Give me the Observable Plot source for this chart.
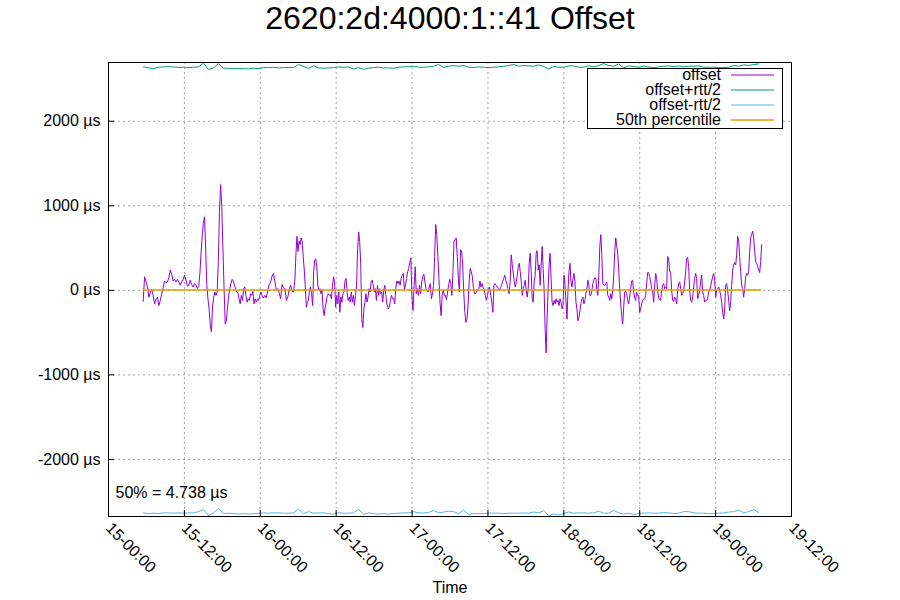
<!DOCTYPE html>
<html>
<head>
<meta charset="utf-8">
<script src="https://cdn.jsdelivr.net/npm/d3@7"></script>
<script src="https://cdn.jsdelivr.net/npm/@observablehq/plot@0.6"></script>
<style>
  body { margin: 0; background: #fff; }
  #chart { width: 900px; height: 600px; }
</style>
</head>
<body>
<div id="chart"></div>
<script>
// ---------------- DATA ----------------
const chartTitle = "2620:2d:4000:1::41 Offset";
const xAxisLabel = "Time";
const medianValue = 4.738;
const medianLabel = "50% = 4.738 µs";
const seriesNames = ["offset", "offset+rtt/2", "offset-rtt/2", "50th percentile"];
const seriesColors = ["#9400d3", "#009e73", "#56b4e9", "#e69f00"];

const xDomain = ["2024-03-15T00:00Z", "2024-03-19T12:00Z"];
const xTickDates = [
  "2024-03-15T00:00Z", "2024-03-15T12:00Z", "2024-03-16T00:00Z", "2024-03-16T12:00Z",
  "2024-03-17T00:00Z", "2024-03-17T12:00Z", "2024-03-18T00:00Z", "2024-03-18T12:00Z",
  "2024-03-19T00:00Z", "2024-03-19T12:00Z"
];
const yDomain = [-2675, 2695];
const yTicks = [-2000, -1000, 0, 1000, 2000];

// offset (µs), read piecewise; each piece is evenly spaced between its bounds
const offsetBoundsA = ["2024-03-15T05:29Z", "2024-03-15T14:17Z"];
const offsetA = [-130, 160, 100, 40, -80, -20, 10, -60, -160, -100, -80, -180, -120, -40, 30, 110, 90, 100, 150, 240,
  190, 110, 130, 100, 130, 100, 60, 100, 130, 180, 120, 50, 60, 120, 70, 40, 80, 60, 20, 60];

const offsetBoundsB = ["2024-03-15T14:27Z", "2024-03-16T00:28Z"];
const offsetB = [200, 440, 640, 790, 870, 500, 60, -100, -220, -400, -490, -200, -80, -20, -60, -20, 340, 930, 1250, 990,
  500, 20, -400, -360, -200, -60, 20, 80, 130, 110, 60, 20, -20, -30, -100, -160, -60, -120, 20, 40,
  -60, -140, -100, -120, -40, -60, -10, -160, -100, -140, -100, -120, -60, -20, -60, -90];

const offsetBoundsC1 = ["2024-03-16T00:44Z", "2024-03-16T05:29Z"];
const offsetC1 = [-60, -90, 0, 70, 100, 170, 200, 100, 0, 20, -30, -100, 70, 30, 20, -120, -80, 10, 60, -10, -20, 140];

const offsetBoundsC2 = ["2024-03-16T05:38Z", "2024-03-16T20:11Z"];
const offsetC2 = [420, 640, 460, 580, 540, 620, 580, 400, 240, 40, -200, -140, -120, 0, 40, -40, -180, 220, 360, 370,
  280, 60, 0, 20, -40, 0, -220, -300, -200, -140, -60, -40, -60, -50, -100, 60, 160, 100, -200, -60,
  -160, -20, -260, -80, -140, -40, -20, 120, 140, -20, -120, -80, -140, -20, -140, -60, -180, -60, 60, 480,
  690, 580, 310, -340, -440, -220, -140, -40, -140, -80, 20, -20, 100, 120, 60, -20, 20, -120, 60, -60,
  20, -40, -20, -140, 0, 60, -60, -160, -200];

const offsetBoundsD = ["2024-03-16T20:14Z", "2024-03-17T15:51Z"];
const offsetD = [-220, -200, -120, -60, -100, -90, -160, 20, 110, 80, 110, 60, 140, 180, 200, 0, 60, 140, 220, 260,
  330, 380, -90, -240, 60, 280, -40, 20, -60, 60, -40, 100, 160, 190, 100, 20, 0, -20, 40, 80,
  -100, -40, 60, 400, 780, 660, 400, 140, -140, -300, -60, 0, -60, -60, -110, -20, 60, 130, 80, -60,
  220, 580, 600, 620, 400, 140, -20, 480, 470, 300, -20, -260, -380, -340, -180, 100, 260, 220, 160, 20,
  -40, -40, -10, 0, 20, 110, 40, 80, 30, 0, -60, -120, -60, 20, 40, -60, -140, -260, 60, 80,
  60, 40, 20, 0, 30, 60, 100, 140, 180, 120, 80, 20, -40, 100, 420, 300];

const offsetBoundsE = ["2024-03-17T16:10Z", "2024-03-18T11:40Z"];
const offsetE = [100, 40, 100, 180, 280, 320, 220, 100, -60, 20, 60, 120, 0, -80, 20, 320, 440, 220, -100, -140,
  100, 180, 440, 470, 240, 300, 60, 300, 520, 260, 0, -460, -740, -320, 0, 300, 440, 140, -140, -180,
  -120, -160, -100, -140, -120, -180, -100, -140, -220, -180, 180, 60, -140, -340, 0, 220, 320, 100, 40, 140,
  200, 100, -140, -220, -360, -320, -240, -160, -100, -80, -160, -120, -40, 20, 120, 60, -60, -60, 0, 80,
  120, 150, 140, 0, -60, 180, 520, 660, 420, 80, 60, 60, 80, 100, -60, -80, -120, -40, -100, 0,
  180, 460, 620, 520, 440, 240, 20, -160, -300, -400, -200, -20, -10, -40, -120, -160, -80, 20, 110, 120,
  -20, -80, -120, -20, -60];

const offsetBoundsF = ["2024-03-18T11:50Z", "2024-03-19T07:17Z"];
const offsetF = [-60, -260, -220, -160, -120, -100, -100, -60, 80, 210, 210, 160, 100, 20, -20, -140, 60, 200, 140, 0,
  -90, -110, -120, 0, 60, 80, 20, 40, 20, 400, 380, 220, 220, 0, -120, -130, -80, -100, -160, 0,
  80, 100, 20, -60, -40, 0, 100, 220, 380, 390, 280, 0, -120, -140, -80, 40, 140, 200, 140, -100,
  -60, 0, 100, 180, -20, -60, -140, -120, -120, -100, -20, 0, 50, 110, 160, 200, 120, -80, 0, 20,
  40, 0, -60, -140, -260, -340, -220, 60, 80, 0, -120, -240, -140, 60, 240, 300, 330, 300, 420, 640,
  580, 400, 220, 60, 20, -80, 20, 160, 200, 180, 220, 460, 620, 660, 700, 620, 460, 340, 320, 280,
  240, 210, 340, 540];

// offset + rtt/2 and offset - rtt/2 (µs), evenly spaced between these bounds
const rttBounds = ["2024-03-15T05:32Z", "2024-03-19T06:49Z"];
const offsetPlusHalfRtt = [
  2643, 2631, 2623, 2639, 2643, 2647, 2643, 2635, 2639, 2635,
  2639, 2643, 2686, 2612, 2631, 2682, 2627, 2627, 2623, 2623,
  2623, 2619, 2627, 2623, 2635, 2635, 2639, 2631, 2635, 2635,
  2635, 2671, 2647, 2627, 2655, 2631, 2627, 2631, 2635, 2643,
  2639, 2643, 2619, 2635, 2615, 2627, 2635, 2639, 2631, 2631,
  2627, 2639, 2643, 2647, 2651, 2639, 2639, 2643, 2651, 2671,
  2635, 2651, 2659,
  2651, 2659, 2639, 2635, 2643, 2639, 2635, 2639, 2643, 2651,
  2659, 2671, 2651, 2659, 2655, 2651, 2667, 2647, 2619, 2647,
  2639, 2639, 2655, 2655, 2639, 2639, 2655, 2643, 2659, 2682,
  2659, 2651, 2678, 2631, 2655, 2647, 2639, 2651, 2639, 2635,
  2643, 2651, 2655, 2647, 2655, 2643, 2651, 2651, 2655, 2639,
  2639, 2639, 2635, 2635, 2639, 2659, 2651, 2667, 2659, 2671,
  2678];
const offsetMinusHalfRtt = [
  -2632, -2641, -2636, -2641, -2632, -2632, -2636, -2632, -2636, -2632,
  -2632, -2617, -2592, -2665, -2632, -2580, -2641, -2636, -2641, -2646,
  -2641, -2646, -2641, -2641, -2632, -2636, -2632, -2632, -2636, -2636,
  -2632, -2588, -2641, -2617, -2636, -2632, -2632, -2641, -2646, -2632,
  -2636, -2636, -2632, -2588, -2651, -2632, -2641, -2646, -2641, -2646,
  -2641, -2636, -2632, -2632, -2617, -2632, -2632, -2627, -2603, -2632,
  -2622, -2612, -2617, -2641, -2598, -2651, -2641, -2641, -2641, -2636,
  -2636, -2636, -2641, -2636, -2636, -2636, -2632, -2636, -2622, -2632,
  -2607, -2665, -2646, -2656, -2641, -2622, -2636, -2632, -2632, -2636,
  -2632, -2612, -2636, -2636, -2603, -2632, -2646, -2636, -2651, -2641,
  -2636, -2632, -2636, -2636, -2627, -2632, -2641, -2636, -2617, -2617,
  -2632, -2636, -2636, -2641, -2641, -2636, -2632, -2622, -2617, -2598,
  -2632, -2617, -2593, -2627];

const medianSpan = ["2024-03-15T05:29Z", "2024-03-19T07:17Z"];

// ---------------- BUILD ----------------
function spread(bounds, values) {
  const a = Date.parse(bounds[0]), b = Date.parse(bounds[1]);
  return values.map((v, i) => ({ t: new Date(a + (b - a) * i / (values.length - 1)), v }));
}
const offsetData = [].concat(
  spread(offsetBoundsA, offsetA), spread(offsetBoundsB, offsetB),
  spread(offsetBoundsC1, offsetC1), spread(offsetBoundsC2, offsetC2),
  spread(offsetBoundsD, offsetD), spread(offsetBoundsE, offsetE),
  spread(offsetBoundsF, offsetF)
);
const plusData = spread(rttBounds, offsetPlusHalfRtt);
const minusData = spread(rttBounds, offsetMinusHalfRtt);
const xTicks = xTickDates.map(d => new Date(Date.parse(d)));
const fmt = d3.utcFormat("%d-%H:%M");

const W = 900, H = 600, mL = 108, mR = 109, mT = 62, mB = 84;
const font = "'Liberation Sans', Arial, Helvetica, sans-serif";

const plot = Plot.plot({
  width: W, height: H,
  marginLeft: mL, marginRight: mR, marginTop: mT, marginBottom: mB,
  style: { fontFamily: font, fontSize: "16px", background: "white", color: "black", overflow: "visible" },
  x: { type: "utc", domain: xDomain.map(d => new Date(Date.parse(d))) },
  y: { domain: yDomain },
  marks: [
    Plot.gridX(xTicks, { stroke: "#a0a0a0", strokeOpacity: 1, strokeDasharray: "2,3" }),
    Plot.gridY(yTicks, { stroke: "#a0a0a0", strokeOpacity: 1, strokeDasharray: "2,3" }),
    Plot.line(offsetData, { x: "t", y: "v", stroke: seriesColors[0], strokeWidth: 1 }),
    Plot.line(plusData, { x: "t", y: "v", stroke: seriesColors[1], strokeWidth: 1 }),
    Plot.line(minusData, { x: "t", y: "v", stroke: seriesColors[2], strokeWidth: 1 }),
    Plot.ruleY([medianValue], { x1: new Date(Date.parse(medianSpan[0])), x2: new Date(Date.parse(medianSpan[1])), stroke: seriesColors[3], strokeWidth: 1.5 }),
    Plot.tickY(yTicks, { y: d => d, stroke: "black", insetRight: W - mL - mR - 6 }),
    Plot.tickX(xTicks, { x: d => d, stroke: "black", insetTop: H - mT - mB - 6 }),
    Plot.axisY(yTicks, { tickSize: 0, tickPadding: 8, tickFormat: d => d + " µs", label: null, fontSize: 16 }),
    Plot.axisX(xTicks, { tickSize: 0, tickPadding: 9, tickRotate: 45, tickFormat: fmt, label: null, fontSize: 16 }),
    Plot.frame({ stroke: "black" }),
    Plot.text([chartTitle], { frameAnchor: "top", lineAnchor: "bottom", dy: -33.5, fontSize: 32 }),
    Plot.text([medianLabel], { frameAnchor: "bottom-left", textAnchor: "start", lineAnchor: "bottom", dx: 7, dy: -19, fontSize: 16 }),
    Plot.text([xAxisLabel], { frameAnchor: "bottom", lineAnchor: "bottom", dy: 76, fontSize: 16 })
  ]
});

// legend (opaque key box, top right)
const svg = d3.select(plot);
const key = svg.append("g").attr("font-family", font).attr("font-size", 16);
key.append("rect").attr("x", 587.5).attr("y", 68.5).attr("width", 195).attr("height", 60)
  .attr("fill", "white").attr("stroke", "black");
seriesNames.forEach((name, i) => {
  const cy = 75 + i * 15;
  key.append("text").attr("x", 721).attr("y", cy + 5).attr("text-anchor", "end").attr("fill", "black").text(name);
  key.append("line").attr("x1", 731).attr("x2", 774).attr("y1", cy).attr("y2", cy)
    .attr("stroke", seriesColors[i]).attr("stroke-width", i === 3 ? 1.5 : 1);
});

document.getElementById("chart").appendChild(plot);
</script>
</body>
</html>
